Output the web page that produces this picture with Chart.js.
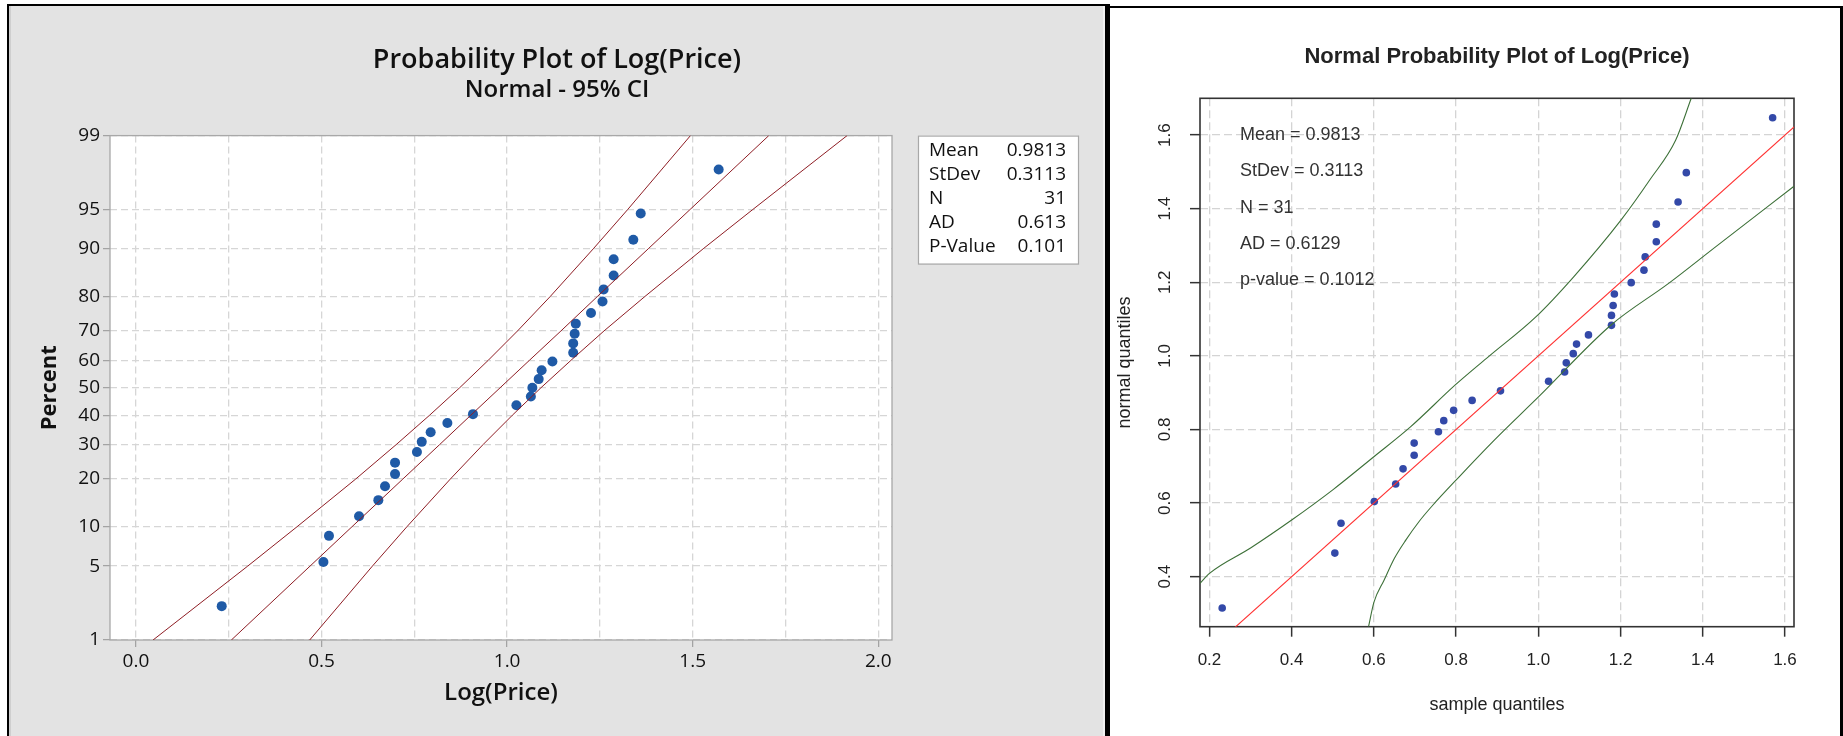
<!DOCTYPE html>
<html><head><meta charset="utf-8">
<script src="https://cdn.jsdelivr.net/npm/chart.js@4.4.1/dist/chart.umd.min.js"></script>
<style>
html,body{margin:0;padding:0;background:#fff;width:1843px;height:736px;overflow:hidden;position:relative}
.b{position:absolute;background:#000}
#lp{position:absolute;left:9px;top:6px;width:1096px;height:730px;background:#e3e3e3}
#rp{position:absolute;left:1110px;top:8px;width:730px;height:728px;background:#fff}
canvas{display:block}
</style></head><body>
<div id="lp"><canvas id="c1" width="1096" height="730"></canvas></div>
<div id="rp"><canvas id="c2" width="730" height="728"></canvas></div>
<div style="position:absolute;left:9px;top:6px;width:2px;height:730px;background:#cfcfcf"></div>
<div style="position:absolute;left:1103px;top:6px;width:2px;height:730px;background:#f2f2f2"></div>
<div class="b" style="left:7px;top:4px;width:1101px;height:2px"></div>
<div class="b" style="left:7px;top:4px;width:2px;height:732px"></div>
<div class="b" style="left:1105px;top:4px;width:5px;height:732px"></div>
<div class="b" style="left:1108px;top:6px;width:735px;height:2px"></div>
<div class="b" style="left:1840px;top:6px;width:3px;height:730px"></div>
<script>
// ---------- data ----------
const logPrice = [0.231,0.505,0.520,0.601,0.653,0.671,0.698,0.698,0.757,0.770,0.794,0.839,0.908,1.025,1.064,1.068,1.085,1.093,1.122,1.178,1.178,1.182,1.185,1.226,1.257,1.260,1.287,1.287,1.340,1.360,1.570];
const minitabPercent = [2.2,5.4,8.6,11.8,15.0,18.2,21.3,24.5,27.7,30.9,34.1,37.3,40.4,43.6,46.8,50.0,53.2,56.4,59.6,62.7,65.9,69.1,72.3,75.5,78.7,81.8,85.0,88.2,91.4,94.6,97.8];
const normalQuantiles = [0.315,0.464,0.545,0.604,0.652,0.693,0.730,0.763,0.794,0.824,0.852,0.879,0.905,0.931,0.956,0.981,1.006,1.032,1.057,1.083,1.110,1.137,1.168,1.199,1.233,1.269,1.310,1.358,1.418,1.498,1.647];

const ciPercent = [1,5,10,20,30,40,50,60,70,80,90,95,99];
const fitLogPrice = [0.257,0.469,0.582,0.719,0.818,0.902,0.981,1.060,1.145,1.243,1.380,1.493,1.705];
const ciLowerLogPrice = [0.046,0.301,0.434,0.592,0.701,0.791,0.872,0.949,1.028,1.116,1.232,1.325,1.494];
const ciUpperLogPrice = [0.468,0.637,0.730,0.847,0.935,1.014,1.091,1.172,1.261,1.371,1.528,1.662,1.916];

const percentTicks = [1,5,10,20,30,40,50,60,70,80,90,95,99];
const logPriceTicks = [0,0.25,0.5,0.75,1.0,1.25,1.5,1.75,2.0];

const sampleTicks = [0.2,0.4,0.6,0.8,1.0,1.2,1.4,1.6];
const quantileTicks = [0.4,0.6,0.8,1.0,1.2,1.4,1.6];
const refLineX = [0.15,1.70];
const refLineY = [0.15,1.70];
const upperBandX = [0.177,0.2,0.3,0.4,0.5,0.6,0.689,0.798,0.879,0.994,1.086,1.201,1.271,1.334,1.372];
const upperBandY = [0.382,0.409,0.478,0.554,0.636,0.726,0.807,0.921,0.998,1.106,1.215,1.369,1.478,1.586,1.700];
const lowerBandX = [0.587,0.600,0.625,0.650,0.678,0.710,0.740,0.808,0.893,1.001,1.177,1.317,1.432,1.622];
const lowerBandY = [0.264,0.330,0.391,0.450,0.500,0.550,0.590,0.672,0.771,0.889,1.084,1.197,1.297,1.461];

const statNames = ['Mean','StDev','N','AD','P-Value'];
const statValues = ['0.9813','0.3113','31','0.613','0.101'];
const rStatText = ['Mean = 0.9813','StDev = 0.3113','N = 31','AD = 0.6129','p-value = 0.1012'];

// ---------- helpers ----------
function probit(p){
  const a=[-3.969683028665376e+01,2.209460984245205e+02,-2.759285104469687e+02,1.383577518672690e+02,-3.066479806614716e+01,2.506628277459239e+00];
  const b=[-5.447609879822406e+01,1.615858368580409e+02,-1.556989798598866e+02,6.680131188771972e+01,-1.328068155288572e+01];
  const c=[-7.784894002430293e-03,-3.223964580411365e-01,-2.400758277161838e+00,-2.549732539343734e+00,4.374664141464968e+00,2.938163982698783e+00];
  const d=[7.784695709041462e-03,3.224671290700398e-01,2.445134137142996e+00,3.754408661907416e+00];
  const pl=0.02425, ph=1-pl; let q,r;
  if(p<pl){q=Math.sqrt(-2*Math.log(p));return (((((c[0]*q+c[1])*q+c[2])*q+c[3])*q+c[4])*q+c[5])/((((d[0]*q+d[1])*q+d[2])*q+d[3])*q+1);}
  if(p<=ph){q=p-0.5;r=q*q;return (((((a[0]*r+a[1])*r+a[2])*r+a[3])*r+a[4])*r+a[5])*q/(((((b[0]*r+b[1])*r+b[2])*r+b[3])*r+b[4])*r+1);}
  q=Math.sqrt(-2*Math.log(1-p));return -(((((c[0]*q+c[1])*q+c[2])*q+c[3])*q+c[4])*q+c[5])/((((d[0]*q+d[1])*q+d[2])*q+d[3])*q+1);
}
const zip = (xs, ys) => xs.map((x,i)=>({x, y: ys[i]}));
const pctLine = xs => xs.map((x,i)=>({x, y: probit(ciPercent[i]/100)}));
const isHalf = v => Math.abs(v*2 - Math.round(v*2)) < 1e-9;

const LF = "'Open Sans','Noto Sans',sans-serif";
const RF = "'Liberation Sans',Arial,sans-serif";
const MBLUE = '#1f5aa6', MRED = '#8e1d24';

// ---------- plugins ----------
const plotBgPlugin = (color) => ({
  id:'plotBg',
  beforeDraw(chart){
    const {ctx, chartArea:a} = chart;
    ctx.save(); ctx.fillStyle=color;
    ctx.fillRect(a.left, a.top, a.right-a.left, a.bottom-a.top);
    ctx.restore();
  }
});
const framePlugin = (color, width) => ({
  id:'frame',
  beforeDatasetsDraw(chart){
    const {ctx, chartArea:a} = chart;
    ctx.save(); ctx.strokeStyle=color; ctx.lineWidth=width;
    ctx.strokeRect(a.left, a.top, a.right-a.left, a.bottom-a.top);
    ctx.restore();
  }
});
const statsBoxPlugin = {
  id:'statsBox',
  afterDraw(chart){
    const {ctx, chartArea:a} = chart;
    const x = a.right + 26, y = a.top, w = 160, h = 128;
    ctx.save();
    ctx.fillStyle='#fff'; ctx.fillRect(x,y,w,h);
    ctx.strokeStyle='#a8a8a8'; ctx.lineWidth=1.2; ctx.strokeRect(x+0.5,y+0.5,w,h);
    ctx.fillStyle='#111'; ctx.font="19px "+LF; ctx.textBaseline='middle';
    statNames.forEach((n,i)=>{
      const yy = y + 15 + i*24;
      ctx.textAlign='left'; ctx.fillText(n, x+11, yy);
      ctx.textAlign='right'; ctx.fillText(statValues[i], x+148, yy);
    });
    ctx.restore();
  }
};

// ---------- left chart (Minitab style) ----------
new Chart(document.getElementById('c1'), {
  type:'scatter',
  data:{datasets:[
    {data:pctLine(ciLowerLogPrice), showLine:true, borderColor:MRED, borderWidth:1, pointRadius:0, clip:0},
    {data:pctLine(fitLogPrice), showLine:true, borderColor:MRED, borderWidth:1, pointRadius:0, clip:0},
    {data:pctLine(ciUpperLogPrice), showLine:true, borderColor:MRED, borderWidth:1, pointRadius:0, clip:0},
    {data:zip(logPrice, minitabPercent.map(p=>probit(p/100))), backgroundColor:MBLUE, borderWidth:0, pointRadius:5, clip:false}
  ]},
  options:{
    responsive:false, animation:false, devicePixelRatio:1,
    layout:{padding:0},
    plugins:{
      legend:{display:false}, tooltip:{enabled:false},
      title:{display:true, text:'Probability Plot of Log(Price)', color:'#111',
        font:{family:LF, size:27, weight:'600'}, padding:{top:37.8, bottom:0}},
      subtitle:{display:true, text:'Normal - 95% CI', color:'#111',
        font:{family:LF, size:24, weight:'600'}, padding:{top:0, bottom:30.6}}
    },
    scales:{
      x:{type:'linear', min:-0.07, max:2.037,
        afterBuildTicks:s=>{s.ticks = logPriceTicks.map(v=>({value:v}));},
        afterFit:s=>{s.height = 96;},
        ticks:{autoSkip:false, maxRotation:0, padding:3, color:'#111',
          font:{family:LF, size:19}, callback:v=> isHalf(v) ? v.toFixed(1) : ''},
        grid:{color:'#d6d6d6', lineWidth:1.3, tickLength:7, tickWidth:1.2,
          tickColor:c=> (c.tick && isHalf(c.tick.value)) ? '#a0a0a0' : 'rgba(0,0,0,0)'},
        border:{display:false, dash:[7,4]},
        title:{display:true, text:'Log(Price)', color:'#111', font:{family:LF, size:24, weight:'600'}, padding:{top:0, bottom:28.6}}
      },
      y:{type:'linear', min:probit(0.01), max:probit(0.99),
        afterBuildTicks:s=>{s.ticks = percentTicks.map(p=>({value:probit(p/100)}));},
        afterFit:s=>{s.width = 101;},
        ticks:{autoSkip:false, padding:3, color:'#111', font:{family:LF, size:19},
          callback:(v,i)=> String(percentTicks[i])},
        grid:{color:'#d6d6d6', lineWidth:1.3, tickLength:7, tickWidth:1.2, tickColor:'#a0a0a0'},
        border:{display:false, dash:[7,4]},
        title:{display:true, text:'Percent', color:'#111', font:{family:LF, size:22, weight:'bold'}, padding:{top:27.8, bottom:0}}
      },
      side:{type:'linear', position:'right', display:true,
        afterFit:s=>{s.width = 213;},
        ticks:{display:false}, grid:{display:false, drawTicks:false}, border:{display:false}}
    }
  },
  plugins:[plotBgPlugin('#ffffff'), framePlugin('#a8a8a8',1.3), statsBoxPlugin]
});

// ---------- right chart (R style) ----------
const rTextPlugin = {
  id:'rText',
  afterDatasetsDraw(chart){
    const {ctx, chartArea:a} = chart;
    ctx.save(); ctx.fillStyle='#333'; ctx.font="18px "+RF;
    ctx.textAlign='left'; ctx.textBaseline='middle';
    rStatText.forEach((t,i)=> ctx.fillText(t, a.left + 40, a.top + 36.7 + i*36.3));
    ctx.restore();
  }
};

new Chart(document.getElementById('c2'), {
  type:'scatter',
  data:{datasets:[
    {data:zip(upperBandX, upperBandY), showLine:true, borderColor:'#3d7038', borderWidth:1.1, pointRadius:0, clip:0, cubicInterpolationMode:'monotone'},
    {data:zip(lowerBandX, lowerBandY), showLine:true, borderColor:'#3d7038', borderWidth:1.1, pointRadius:0, clip:0, cubicInterpolationMode:'monotone'},
    {data:zip(refLineX, refLineY), showLine:true, borderColor:'#ff3030', borderWidth:1.1, pointRadius:0, clip:0},
    {data:zip(logPrice, normalQuantiles), backgroundColor:'#3349a8', borderWidth:0, pointRadius:3.8, clip:false}
  ]},
  options:{
    responsive:false, animation:false, devicePixelRatio:1,
    layout:{padding:{right:46, left:0, top:0, bottom:0}},
    plugins:{
      legend:{display:false}, tooltip:{enabled:false},
      title:{display:true, fullSize:false, text:'Normal Probability Plot of Log(Price)', color:'#222',
        font:{family:RF, size:22, weight:'bold'}, padding:{top:35.8, bottom:28.1}}
    },
    scales:{
      x:{type:'linear', min:0.177, max:1.622,
        afterBuildTicks:s=>{s.ticks = sampleTicks.map(v=>({value:v}));},
        afterFit:s=>{s.height = 109.3;},
        ticks:{autoSkip:false, maxRotation:0, padding:13, color:'#222', font:{family:RF, size:17},
          callback:v=> v.toFixed(1)},
        grid:{color:'#d4d4d4', lineWidth:1.3, tickLength:10, tickWidth:1.5, tickColor:'#333'},
        border:{display:false, dash:[8,4]},
        title:{display:true, text:'sample quantiles', color:'#222', font:{family:RF, size:18}, padding:{top:0, bottom:20.2}}
      },
      y:{type:'linear', min:0.264, max:1.70,
        afterBuildTicks:s=>{s.ticks = quantileTicks.map(v=>({value:v}));},
        afterFit:s=>{s.width = 90;},
        ticks:{autoSkip:false, minRotation:90, maxRotation:90, crossAlign:'center', padding:13.2,
          color:'#222', font:{family:RF, size:17}, callback:v=> v.toFixed(1)},
        grid:{color:'#d4d4d4', lineWidth:1.3, tickLength:10, tickWidth:1.5, tickColor:'#333'},
        border:{display:false, dash:[8,4]},
        title:{display:true, text:'normal quantiles', color:'#222', font:{family:RF, size:18}, padding:{top:4, bottom:0}}
      }
    }
  },
  plugins:[framePlugin('#333',1.6), rTextPlugin]
});
</script>
</body></html>
